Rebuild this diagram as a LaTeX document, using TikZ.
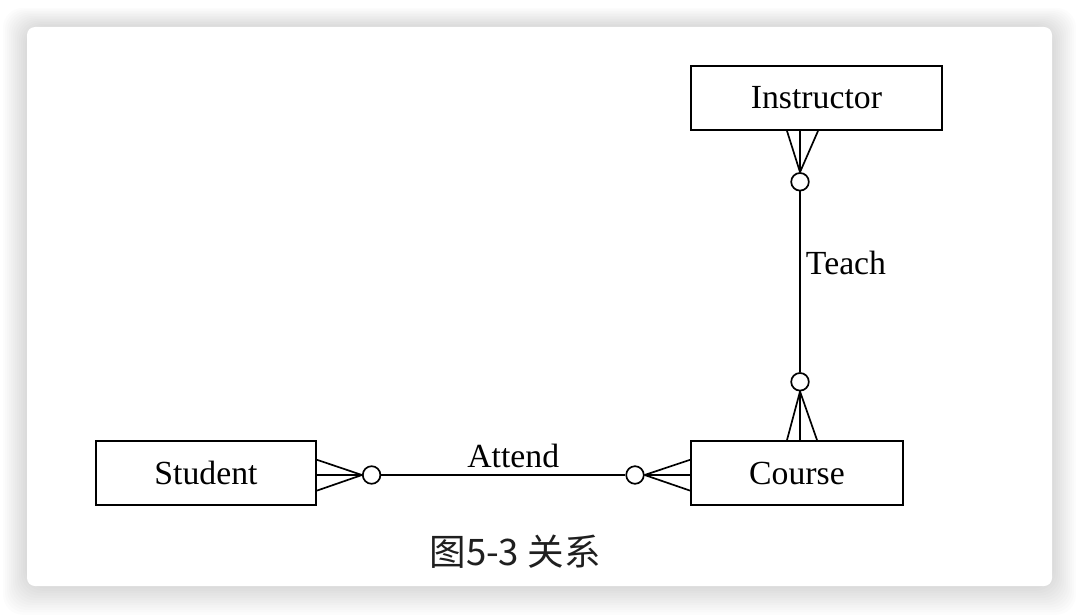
\documentclass[tikz,border=0pt]{standalone}
\usepackage{fontspec}
\setmainfont{Liberation Serif}
\newfontfamily\cjk{Noto Sans CJK SC}
\usetikzlibrary{positioning,calc}

\tikzset{
  entity/.style={draw, line width=1.4pt, minimum height=1.6cm, inner sep=0pt,
    font=\fontsize{24}{28}\selectfont},
  rel/.style={line width=1.2pt},
  opt/.style={circle, draw, line width=1.2pt, minimum size=0.44cm, inner sep=0pt, fill=white},
  rellabel/.style={font=\fontsize{24}{28}\selectfont, inner sep=0pt},
}

\begin{document}
\begin{tikzpicture}
  \useasboundingbox (0,0) rectangle (27,15.375);
  \fill[white] (0,0) rectangle (27,15.375);
  % soft shadow round the card
  \foreach \i in {1,...,12}
    \fill[black, opacity=0.012, rounded corners=0.5cm]
      (0.675-\i*0.05,0.725-\i*0.06) rectangle (26.3+\i*0.05,14.7+\i*0.04);
  \fill[white, rounded corners=0.2cm] (0.675,0.725) rectangle (26.3,14.7);

  % entities
  \node[entity, minimum width=6.275cm] (instructor) at (20.41,12.925) {Instructor};
  \node[entity, minimum width=5.5cm] (student) at (5.15,3.55) {Student};
  \node[entity, minimum width=5.3cm] (course) at (19.925,3.55) {Course};

  % optional markers
  \node[opt] (stuopt) at (9.29,3.5) {};
  \node[opt] (crsopt) at (15.875,3.5) {};
  \node[opt] (insopt) at (20,10.83) {};
  \node[opt] (teaopt) at (20,5.83) {};

  % Attend
  \draw[rel] (stuopt.east) -- (crsopt.west);
  \foreach \dy in {0.33,-0.05,-0.44}
    \draw[rel] (stuopt.west) -- ([yshift=\dy cm]student.east);
  \foreach \dy in {0.33,-0.05,-0.44}
    \draw[rel] (crsopt.east) -- ([yshift=\dy cm]course.west);
  \node[rellabel] (attend) at (12.83,3.975) {Attend};

  % Teach
  \draw[rel] (insopt.south) -- (teaopt.north);
  \foreach \dx in {-0.325,0,0.45}
    \draw[rel] (insopt.north) -- ($(insopt |- instructor.south)+(\dx,0)$);
  \foreach \dx in {-0.325,0,0.425}
    \draw[rel] (teaopt.south) -- ($(teaopt |- course.north)+(\dx,0)$);
  \node[rellabel] (teach) at (21.15,8.8) {Teach};

  \node[font=\cjk\fontsize{26}{30}\selectfont, text=black!88] (caption) at (12.875,1.575) {图5-3 关系};
\end{tikzpicture}
\end{document}
